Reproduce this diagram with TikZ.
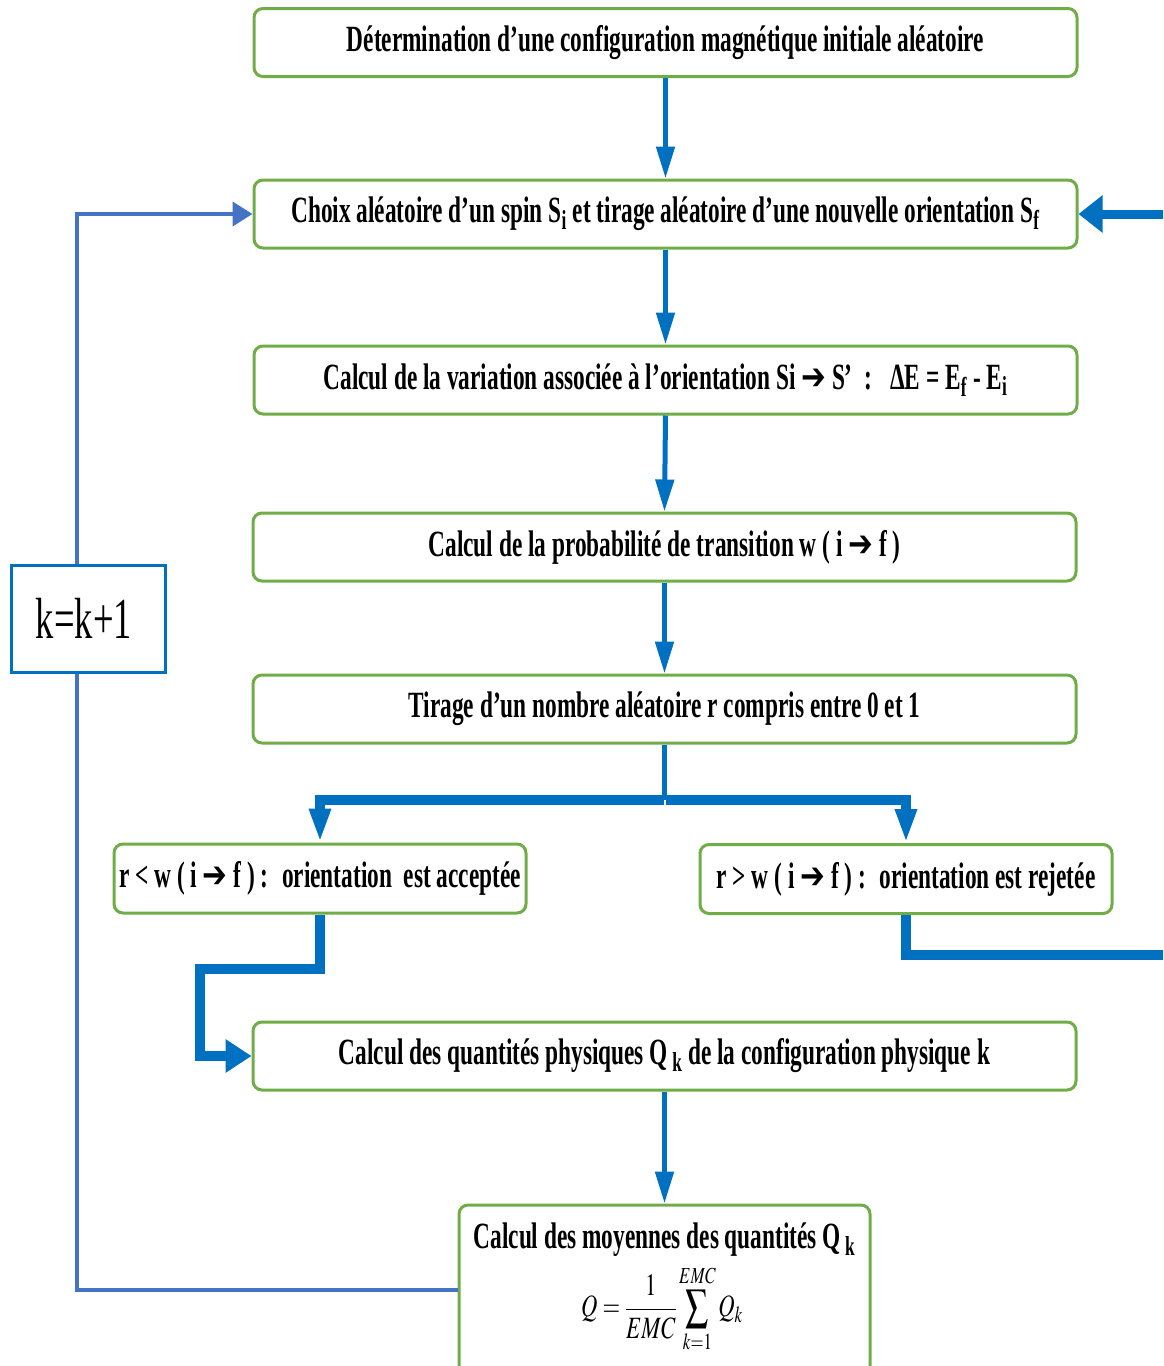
\documentclass[tikz,border=0pt]{standalone}
\usepackage{mathptmx}
\usepackage{graphicx}
\usepackage{fontspec}
\setmainfont{Liberation Serif}[FakeStretch=0.63]
\newfontfamily\arrfont{DejaVu Sans}[FakeStretch=0.8]
\usetikzlibrary{arrows.meta,calc}
\definecolor{boxgreen}{HTML}{70AD47}
\definecolor{arrblue}{HTML}{0070C0}
\definecolor{loopblue}{HTML}{4472C4}
\newcommand{\ar}{{\arrfont\bfseries ➔}}
\tikzset{
  stepbox/.style={draw=boxgreen, line width=3pt, rounded corners=9pt, fill=white,
     minimum width=823pt, minimum height=68pt, inner sep=0pt,
     font=\fontsize{37}{42}\selectfont\bfseries},
  smallbox/.style={stepbox, minimum width=412pt, minimum height=69pt},
  mainarrow/.style={draw=arrblue, line width=5pt, -{Triangle[length=32pt,width=18pt]}},
  fatline/.style={draw=arrblue, line width=10pt},
  looparrow/.style={draw=loopblue, line width=4pt},
}
\begin{document}
\begin{tikzpicture}[x=1pt,y=-1pt]
\clip (0,0) rectangle (1163,1366);
\node[stepbox] (n1) at (665.5,42.5) {Détermination d’une configuration magnétique initiale aléatoire};
\node[stepbox] (n2) at (665.5,214) {Choix aléatoire d’un spin S\textsubscript{i} et tirage aléatoire d’une nouvelle orientation S\textsubscript{f}};
\node[stepbox] (n3) at (665.5,380) {Calcul de la variation associée à l’orientation Si \ar\ S’ \,:\, \ ΔE = E\textsubscript{f} - E\textsubscript{i}};
\node[stepbox] (n4) at (664.5,547) {Calcul de la probabilité de transition w ( i \ar\ f )};
\node[stepbox] (n5) at (664.5,709) {Tirage d’un nombre aléatoire r compris entre 0 et 1};
\node[smallbox] (nA) at (320,878.5) {r < w ( i \ar\ f ) : \ orientation \ est acceptée};
\node[smallbox] (nR) at (906,879) {r > w ( i \ar\ f ) : \ orientation est rejetée};
\node[stepbox] (n6) at (664.5,1056) {Calcul des quantités physiques Q\textsubscript{ k} de la configuration physique k};
\node[stepbox, minimum width=411pt, minimum height=170pt] (n7) at (664.5,1290) {};
\node[font=\fontsize{37}{42}\selectfont\bfseries, inner sep=0pt] (n7t) at (664.5,1240) {Calcul des moyennes des quantités Q\textsubscript{ k}};
\node[inner sep=0pt] (n7f) at (662,1309) {\scalebox{0.73}[1]{\fontsize{31}{36}\selectfont$\displaystyle Q=\frac{1}{EMC}\sum_{k=1}^{EMC}Q_k$}};
\node[draw=arrblue, line width=3pt, fill=white, minimum width=154pt, minimum height=107pt, inner sep=0pt,
      font=\fontsize{58}{60}\selectfont] (nk) at (88,618.5) {k=k+1\hspace*{8pt}};
% main flow
\draw[mainarrow] (n1.south) -- (n2.north);
\draw[mainarrow] (n2.south) -- (n3.north);
\draw[mainarrow] (n3.south) -- (n4.north);
\draw[mainarrow] (n4.south) -- (n5.north);
\draw[mainarrow] (n6.south) -- (n7.north);
% branch
\coordinate (bar) at (664.5,800);
\draw[draw=arrblue, line width=5pt] (n5.south) -- (bar);
\draw[fatline, -{Triangle[length=34pt,width=20pt]}] ($(bar)+(-1,0)$) -| (nA.north);
\draw[fatline, -{Triangle[length=34pt,width=20pt]}] ($(bar)+(1,0)$) -| (nR.north);
% accepted
\coordinate (lx) at (200,0);
\draw[fatline, -{Triangle[length=26pt,width=32pt]}] (nA.south) -- ++(0,54) -| (n6.west -| lx) -- (n6.west);
% rejected
\coordinate (rexit) at (1180,955);
\draw[fatline] (nR.south) |- (rexit);
\coordinate (rin) at (1180,214);
\draw[draw=arrblue, line width=9pt, -{Triangle[length=24pt,width=36pt]}] (rin) -- (n2.east);
% loop
\coordinate (kx) at (77,0);
\draw[looparrow] (n7.west) -| (nk.south -| kx);
\draw[looparrow, -{Triangle[length=20pt,width=24pt]}] (nk.north -| kx) |- (n2.west);
\end{tikzpicture}
\end{document}
